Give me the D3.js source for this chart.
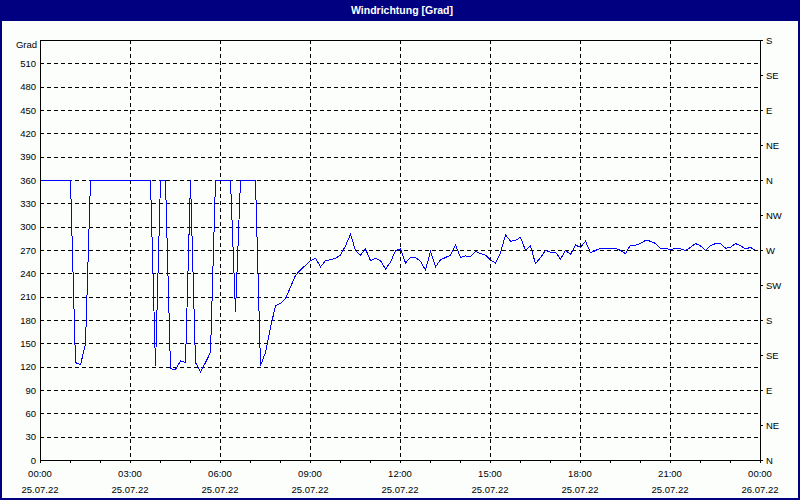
<!DOCTYPE html>
<html>
<head>
<meta charset="utf-8">
<script src="https://cdn.jsdelivr.net/npm/d3@7"></script>
<style>
  body { margin: 0; background: #fff; }
  svg text { font-family: Tahoma, "Liberation Sans", Arial, sans-serif; }
</style>
</head>
<body>
<script>

// wind direction every 10 minutes, 25.07.22 00:00 - 23:50
var windDir = [
  360, 360, 360, 360, 360, 360, 360, 126, 123, 150,
  360, 360, 360, 360, 360, 360, 360, 360, 360, 360,
  360, 360, 360, 121, 360, 360, 118, 117, 128, 126,
  360, 126, 114, 126, 139, 360, 360, 360, 360, 191,
  360, 360, 360, 360, 122, 139, 171, 199, 202, 208,
  223, 238, 245, 251, 257, 260, 249, 257, 258, 260,
  264, 276, 291, 270, 264, 272, 257, 260, 257, 246,
  255, 270, 272, 254, 261, 261, 256, 245, 269, 249,
  258, 261, 264, 277, 261, 263, 262, 269, 266, 264,
  258, 254, 267, 290, 282, 283, 287, 270, 276, 253,
  261, 270, 268, 268, 259, 270, 265, 277, 274, 282,
  267, 270, 273, 273, 272, 273, 270, 266, 277, 277,
  279, 283, 282, 279, 273, 273, 271, 273, 272, 270,
  274, 279, 276, 270, 276, 279, 279, 273, 274, 279,
  276, 272, 274, 270
];

var startTime = new Date(2022, 6, 25, 0, 0);
var endTime = new Date(2022, 6, 26, 0, 0);
var stepMinutes = 10;

var gradTicks = d3.range(0, 511, 30);
var compassTicks = d3.range(0, 541, 45);
var compassLabels = ["N", "NE", "E", "SE", "S", "SW", "W", "NW", "N", "NE", "E", "SE", "S"];

var titleText = "Windrichtung [Grad]";
var unitText = "Grad";

var width = 800, height = 500;
var margin = {top: 40, right: 40, bottom: 40, left: 40};
var innerW = width - margin.left - margin.right;
var innerH = height - margin.top - margin.bottom;

var data = windDir.map(function(v, i) {
  return {date: d3.timeMinute.offset(startTime, i * stepMinutes), value: v};
});

var svg = d3.select("body").append("svg")
  .attr("width", width)
  .attr("height", height);

svg.append("rect")
  .attr("width", width).attr("height", height)
  .attr("fill", "#fcfefc");

// title bar
svg.append("rect")
  .attr("x", 0).attr("y", 0)
  .attr("width", width).attr("height", 21)
  .attr("fill", "#000080");

svg.append("text")
  .attr("x", 402).attr("y", 14)
  .attr("text-anchor", "middle")
  .attr("fill", "#fff")
  .style("font-size", "10.5px")
  .style("font-weight", "bold")
  .text(titleText);

// window frame
svg.append("rect")
  .attr("x", 1).attr("y", 1)
  .attr("width", width - 2).attr("height", height - 2)
  .attr("fill", "none")
  .attr("stroke", "#000080")
  .attr("stroke-width", 2);

var g = svg.append("g")
  .attr("transform", "translate(" + margin.left + "," + margin.top + ")");

var xScale = d3.scaleTime().domain([startTime, endTime]).range([0, innerW]);
var yScale = d3.scaleLinear().domain([0, 540]).range([innerH, 0]);

// grid
g.append("g").attr("class", "grid")
  .selectAll("line")
  .data(gradTicks.filter(function(d) { return d > 0; }))
  .enter().append("line")
  .attr("x1", 0).attr("x2", innerW)
  .attr("y1", function(d) { return Math.round(yScale(d)) + 0.5; })
  .attr("y2", function(d) { return Math.round(yScale(d)) + 0.5; })
  .attr("stroke", "#000")
  .attr("stroke-dasharray", "4,3")
  .attr("shape-rendering", "crispEdges");

var majorTimes = xScale.ticks(d3.timeHour.every(3));

g.append("g").attr("class", "grid")
  .selectAll("line")
  .data(majorTimes.filter(function(d) { return +d > +startTime && +d < +endTime; }))
  .enter().append("line")
  .attr("y1", 0).attr("y2", innerH)
  .attr("x1", function(d) { return Math.round(xScale(d)) + 0.5; })
  .attr("x2", function(d) { return Math.round(xScale(d)) + 0.5; })
  .attr("stroke", "#000")
  .attr("stroke-dasharray", "4,3")
  .attr("shape-rendering", "crispEdges");

// data line
var line = d3.line()
  .x(function(d) { return xScale(d.date) + 0.5; })
  .y(function(d) { return yScale(d.value) + 0.5; });

g.append("path")
  .datum(data)
  .attr("d", line)
  .attr("fill", "none")
  .attr("stroke", "#0000ff")
  .attr("stroke-width", 1)
  .attr("shape-rendering", "crispEdges");

// frame
g.append("rect")
  .attr("x", 0.5).attr("y", 0.5)
  .attr("width", innerW).attr("height", innerH)
  .attr("fill", "none")
  .attr("stroke", "#000")
  .attr("shape-rendering", "crispEdges");

// left labels
var yAxis = d3.axisLeft(yScale).tickValues(gradTicks).tickSize(0).tickPadding(4);
var yG = g.append("g").call(yAxis);
yG.select(".domain").remove();
yG.selectAll("text").style("font-size", "9.5px").attr("fill", "#000").attr("font-family", null);

g.append("text")
  .attr("x", -3).attr("y", 7.5)
  .attr("text-anchor", "end")
  .style("font-size", "9.5px")
  .attr("fill", "#000")
  .text(unitText);

// right compass axis
var rAxis = d3.axisRight(yScale)
  .tickValues(compassTicks)
  .tickSize(3)
  .tickPadding(3)
  .tickFormat(function(d, i) { return compassLabels[i]; });
var rG = g.append("g")
  .attr("transform", "translate(" + innerW + ",0)")
  .call(rAxis);
rG.select(".domain").remove();
rG.selectAll("line").attr("stroke", "#000").attr("shape-rendering", "crispEdges");
rG.selectAll("text").style("font-size", "9.5px").attr("fill", "#000").attr("font-family", null);

// bottom time axis, hourly minor ticks
var xAxis = d3.axisBottom(xScale)
  .ticks(d3.timeHour.every(1))
  .tickSize(3)
  .tickFormat("");
var xG = g.append("g")
  .attr("transform", "translate(0," + innerH + ")")
  .call(xAxis);
xG.select(".domain").remove();
xG.selectAll("line").attr("stroke", "#000").attr("shape-rendering", "crispEdges");

var timeFmt = d3.timeFormat("%H:%M");
var dateFmt = d3.timeFormat("%d.%m.%y");

var xLabels = g.append("g").selectAll("g")
  .data(majorTimes)
  .enter().append("g")
  .attr("transform", function(d) { return "translate(" + xScale(d) + "," + innerH + ")"; });

xLabels.append("text")
  .attr("y", 17)
  .attr("text-anchor", "middle")
  .style("font-size", "9.5px")
  .text(function(d) { return timeFmt(d); });

xLabels.append("text")
  .attr("y", 33)
  .attr("text-anchor", "middle")
  .style("font-size", "9.5px")
  .text(function(d) { return dateFmt(d); });

</script>
</body>
</html>
